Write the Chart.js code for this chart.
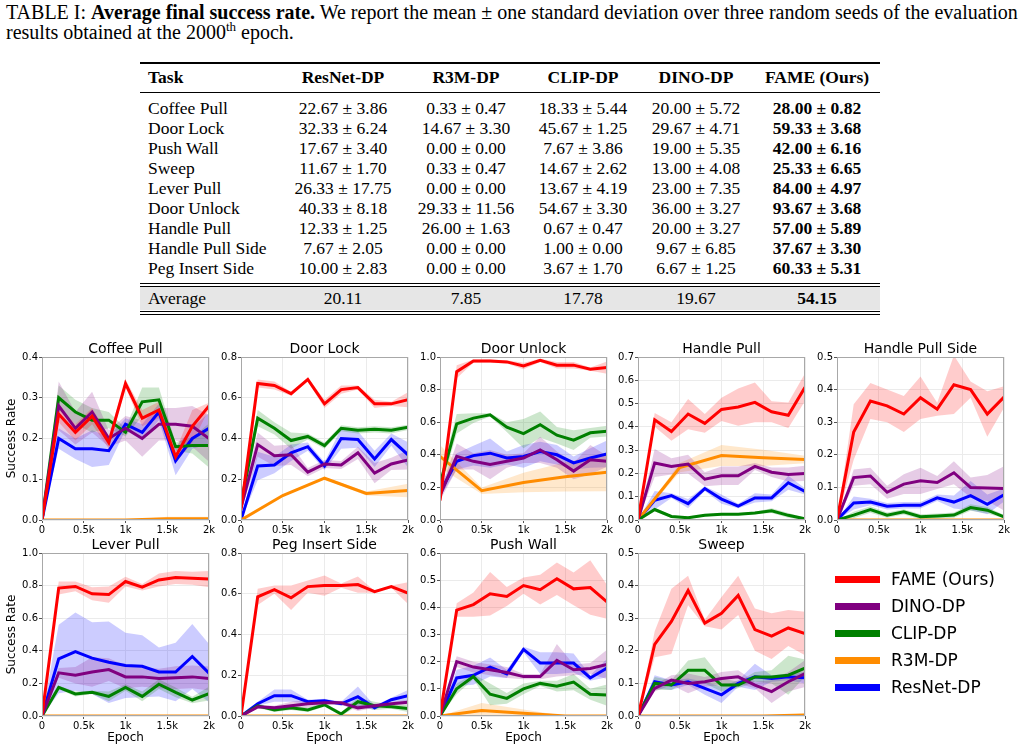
<!DOCTYPE html>
<html>
<head>
<meta charset="utf-8">
<script src="https://cdn.jsdelivr.net/npm/chart.js@4.4.0/dist/chart.umd.min.js"></script>
<style>
  body { margin: 0; background: #fff; }
  #page { position: relative; width: 1020px; height: 749px; overflow: hidden; color: #000; }
  .caption { position: absolute; left: 6px; top: 2px; font-family: 'Liberation Serif', serif; font-size: 20px; line-height: 20px; white-space: nowrap; }
  .caption sup { font-size: 13px; line-height: 0; }
  .rule { position: absolute; left: 140px; width: 740px; background: #000; }
  .row { position: absolute; left: 140px; width: 740px; height: 20px; font-family: 'Liberation Serif', serif; font-size: 17.5px; line-height: 20px; }
  .cell { position: absolute; top: 0; transform: translateX(-50%); white-space: nowrap; }
  .task { position: absolute; left: 8px; top: 0; white-space: nowrap; }
  .avgbg { position: absolute; left: 140px; width: 740px; background: #e6e6e6; }
  canvas.plot { position: absolute; }
  .leg { position: absolute; left: 835px; height: 20px; font-family: 'DejaVu Sans', sans-serif; font-size: 17px; line-height: 20px; white-space: nowrap; }
  .leg i { position: absolute; left: 0; top: 7px; width: 45px; height: 7px; }
  .leg span { position: absolute; left: 56px; top: 0; }
</style>
</head>
<body>
<div id="page">
  <div class="caption">TABLE I: <b>Average final success rate.</b> We report the mean ± one standard deviation over three random seeds of the evaluation<br>results obtained at the 2000<sup>th</sup> epoch.</div>
</div>
<script>
// ---- table data ----
const TABLE_COLUMNS = ['ResNet-DP', 'R3M-DP', 'CLIP-DP', 'DINO-DP', 'FAME (Ours)'];
const TABLE_TASKS = ['Coffee Pull', 'Door Lock', 'Push Wall', 'Sweep', 'Lever Pull', 'Door Unlock', 'Handle Pull', 'Handle Pull Side', 'Peg Insert Side'];
const TABLE_MEAN = [
  [22.67, 0.33, 18.33, 20.00, 28.00],
  [32.33, 14.67, 45.67, 29.67, 59.33],
  [17.67, 0.00, 7.67, 19.00, 42.00],
  [11.67, 0.33, 14.67, 13.00, 25.33],
  [26.33, 0.00, 13.67, 23.00, 84.00],
  [40.33, 29.33, 54.67, 36.00, 93.67],
  [12.33, 26.00, 0.67, 20.00, 57.00],
  [7.67, 0.00, 1.00, 9.67, 37.67],
  [10.00, 0.00, 3.67, 6.67, 60.33]
];
const TABLE_STD = [
  [3.86, 0.47, 5.44, 5.72, 0.82],
  [6.24, 3.30, 1.25, 4.71, 3.68],
  [3.40, 0.00, 3.86, 5.35, 6.16],
  [1.70, 0.47, 2.62, 4.08, 6.65],
  [17.75, 0.00, 4.19, 7.35, 4.97],
  [8.18, 11.56, 3.30, 3.27, 3.68],
  [1.25, 1.63, 0.47, 3.27, 5.89],
  [2.05, 0.00, 0.00, 6.85, 3.30],
  [2.83, 0.00, 1.70, 1.25, 5.31]
];
const TABLE_AVG = [20.11, 7.85, 17.78, 19.67, 54.15];

// ---- curve data ----
const EPOCHS = [0, 200, 400, 600, 800, 1000, 1200, 1400, 1600, 1800, 2000];
const R3M_EPOCHS = [0, 500, 1000, 1500, 2000];
const X_TICKS = [0, 500, 1000, 1500, 2000];
const X_TICK_LABELS = ['0', '0.5k', '1k', '1.5k', '2k'];
const METHODS = ['FAME (Ours)', 'DINO-DP', 'CLIP-DP', 'R3M-DP', 'ResNet-DP'];
const COLORS = ['#ff0000', '#800080', '#008000', '#ff8c00', '#0000ff'];
const TASKS = ['Coffee Pull', 'Door Lock', 'Door Unlock', 'Handle Pull', 'Handle Pull Side', 'Lever Pull', 'Peg Insert Side', 'Push Wall', 'Sweep'];
const Y_MAX = [0.4, 0.8, 1.0, 0.7, 0.5, 1.0, 0.8, 0.6, 0.5];
const Y_STEP = [0.1, 0.2, 0.2, 0.1, 0.1, 0.2, 0.2, 0.1, 0.1];

// one row per task, same order as TASKS
const FAME_MEAN = [
  [0, 0.26, 0.215, 0.255, 0.19, 0.335, 0.25, 0.27, 0.155, 0.23, 0.28],
  [0.05, 0.67, 0.66, 0.62, 0.69, 0.57, 0.64, 0.65, 0.57, 0.57, 0.59],
  [0.12, 0.91, 0.975, 0.975, 0.97, 0.945, 0.98, 0.95, 0.95, 0.925, 0.935],
  [0, 0.43, 0.38, 0.455, 0.415, 0.475, 0.485, 0.505, 0.465, 0.45, 0.57],
  [0, 0.27, 0.365, 0.35, 0.325, 0.375, 0.34, 0.415, 0.40, 0.325, 0.377],
  [0, 0.785, 0.795, 0.75, 0.745, 0.825, 0.79, 0.835, 0.85, 0.845, 0.84],
  [0, 0.585, 0.62, 0.58, 0.635, 0.64, 0.64, 0.645, 0.61, 0.635, 0.603],
  [0, 0.39, 0.41, 0.45, 0.44, 0.48, 0.465, 0.505, 0.468, 0.473, 0.42],
  [0, 0.22, 0.29, 0.385, 0.285, 0.315, 0.37, 0.265, 0.245, 0.27, 0.253]
];
const FAME_STD = [
  [0, 0.02, 0.02, 0.02, 0.015, 0.01, 0.02, 0.02, 0.015, 0.04, 0.008],
  [0.03, 0.02, 0.02, 0.01, 0.01, 0.02, 0.02, 0.01, 0.02, 0.01, 0.037],
  [0.04, 0.04, 0.01, 0.01, 0.01, 0.02, 0.01, 0.02, 0.02, 0.01, 0.037],
  [0, 0.03, 0.04, 0.065, 0.04, 0.05, 0.08, 0.085, 0.045, 0.055, 0.059],
  [0, 0.085, 0.055, 0.05, 0.055, 0.065, 0.02, 0.09, 0.025, 0.07, 0.033],
  [0, 0.04, 0.03, 0.04, 0.05, 0.03, 0.02, 0.04, 0.04, 0.04, 0.05],
  [0, 0.04, 0.02, 0.06, 0.03, 0.05, 0.01, 0.04, 0.005, 0.005, 0.053],
  [0, 0.025, 0.045, 0.08, 0.035, 0.03, 0.055, 0.06, 0.06, 0.1, 0.062],
  [0, 0.04, 0.1, 0.045, 0.01, 0.05, 0.06, 0.065, 0.07, 0.055, 0.067]
];
const DINO_MEAN = [
  [0, 0.28, 0.225, 0.265, 0.20, 0.225, 0.20, 0.235, 0.235, 0.23, 0.20],
  [0.06, 0.37, 0.315, 0.32, 0.235, 0.275, 0.27, 0.33, 0.23, 0.275, 0.295],
  [0.15, 0.39, 0.36, 0.34, 0.36, 0.38, 0.43, 0.37, 0.30, 0.37, 0.36],
  [0, 0.245, 0.23, 0.24, 0.175, 0.19, 0.19, 0.23, 0.205, 0.195, 0.20],
  [0, 0.13, 0.135, 0.085, 0.11, 0.12, 0.115, 0.145, 0.10, 0.098, 0.097],
  [0, 0.265, 0.25, 0.27, 0.285, 0.24, 0.24, 0.23, 0.235, 0.24, 0.23],
  [0, 0.045, 0.04, 0.05, 0.06, 0.065, 0.065, 0.04, 0.05, 0.06, 0.067],
  [0, 0.20, 0.18, 0.17, 0.16, 0.145, 0.145, 0.205, 0.17, 0.175, 0.19],
  [0, 0.085, 0.11, 0.10, 0.105, 0.115, 0.12, 0.095, 0.075, 0.105, 0.13]
];
const DINO_STD = [
  [0, 0.06, 0.04, 0.05, 0.02, 0.03, 0.045, 0.04, 0.04, 0.05, 0.057],
  [0.02, 0.06, 0.05, 0.05, 0.02, 0.02, 0.02, 0.03, 0.05, 0.03, 0.047],
  [0.03, 0.08, 0.05, 0.09, 0.04, 0.03, 0.08, 0.05, 0.05, 0.09, 0.033],
  [0, 0.06, 0.035, 0.04, 0.03, 0.04, 0.04, 0.015, 0.02, 0.03, 0.033],
  [0, 0.025, 0.025, 0.02, 0.03, 0.04, 0.02, 0.035, 0.03, 0.04, 0.068],
  [0, 0.03, 0.05, 0.09, 0.07, 0.07, 0.06, 0.06, 0.07, 0.07, 0.074],
  [0, 0.01, 0.01, 0.02, 0.02, 0.01, 0.01, 0.015, 0.01, 0.01, 0.013],
  [0, 0.02, 0.02, 0.02, 0.02, 0.01, 0.01, 0.06, 0.02, 0.02, 0.054],
  [0, 0.01, 0.015, 0.03, 0.015, 0.02, 0.02, 0.01, 0.035, 0.03, 0.041]
];
const CLIP_MEAN = [
  [0, 0.30, 0.265, 0.245, 0.245, 0.215, 0.29, 0.295, 0.18, 0.183, 0.183],
  [0.08, 0.50, 0.45, 0.39, 0.41, 0.365, 0.45, 0.44, 0.445, 0.44, 0.455],
  [0.22, 0.59, 0.625, 0.645, 0.57, 0.53, 0.585, 0.52, 0.49, 0.535, 0.545],
  [0, 0.045, 0.015, 0.01, 0.02, 0.025, 0.025, 0.03, 0.04, 0.02, 0.005],
  [0, 0.015, 0.032, 0.015, 0.025, 0.01, 0.012, 0.015, 0.038, 0.03, 0.01],
  [0, 0.175, 0.135, 0.145, 0.12, 0.175, 0.12, 0.195, 0.145, 0.098, 0.137],
  [0, 0.05, 0.03, 0.04, 0.03, 0.055, 0.01, 0.07, 0.05, 0.045, 0.037],
  [0, 0.10, 0.145, 0.08, 0.065, 0.10, 0.12, 0.11, 0.125, 0.08, 0.077],
  [0, 0.10, 0.095, 0.14, 0.14, 0.095, 0.095, 0.12, 0.12, 0.125, 0.147]
];
const CLIP_STD = [
  [0, 0.03, 0.03, 0.03, 0.02, 0.01, 0.035, 0.03, 0.01, 0.02, 0.054],
  [0.03, 0.04, 0.03, 0.04, 0.015, 0.015, 0.015, 0.015, 0.015, 0.015, 0.013],
  [0.04, 0.06, 0.03, 0.01, 0.03, 0.09, 0.08, 0.05, 0.06, 0.03, 0.033],
  [0, 0.008, 0.005, 0.005, 0.005, 0.005, 0.005, 0.005, 0.01, 0.01, 0.005],
  [0, 0.01, 0.01, 0.008, 0.008, 0.008, 0.008, 0.008, 0.01, 0.01, 0.005],
  [0, 0.01, 0.015, 0.01, 0.03, 0.02, 0.03, 0.03, 0.03, 0.02, 0.042],
  [0, 0.01, 0.01, 0.01, 0.01, 0.01, 0.01, 0.02, 0.02, 0.01, 0.017],
  [0, 0.02, 0.01, 0.04, 0.02, 0.02, 0.01, 0.02, 0.03, 0.02, 0.039],
  [0, 0.02, 0.015, 0.03, 0.04, 0.02, 0.01, 0.015, 0.02, 0.06, 0.026]
];
// R3M was logged on R3M_EPOCHS only
const R3M_MEAN = [
  [0, 0, 0, 0.003, 0.003],
  [0, 0.12, 0.205, 0.13, 0.145],
  [0.39, 0.18, 0.23, 0.265, 0.293],
  [0, 0.225, 0.277, 0.267, 0.26],
  [0, 0, 0, 0, 0],
  [0, 0, 0, 0, 0],
  [0, 0, 0, 0, 0],
  [0, 0.02, 0.01, 0, 0],
  [0, 0, 0, 0, 0.003]
];
const R3M_STD = [
  [0, 0, 0, 0.005, 0.005],
  [0, 0.005, 0.005, 0.01, 0.033],
  [0.07, 0.02, 0.06, 0.09, 0.116],
  [0, 0.02, 0.045, 0.035, 0.016],
  [0, 0, 0, 0, 0],
  [0, 0, 0, 0, 0],
  [0, 0, 0, 0, 0],
  [0, 0.028, 0.014, 0, 0],
  [0, 0, 0, 0, 0.005]
];
const RESNET_MEAN = [
  [0, 0.20, 0.175, 0.175, 0.17, 0.235, 0.215, 0.265, 0.145, 0.20, 0.225],
  [0, 0.265, 0.27, 0.33, 0.36, 0.265, 0.40, 0.395, 0.30, 0.395, 0.32],
  [0.17, 0.36, 0.395, 0.41, 0.38, 0.39, 0.42, 0.40, 0.35, 0.38, 0.405],
  [0, 0.085, 0.105, 0.07, 0.135, 0.09, 0.06, 0.095, 0.095, 0.16, 0.123],
  [0, 0.052, 0.055, 0.042, 0.045, 0.045, 0.068, 0.055, 0.075, 0.048, 0.077],
  [0, 0.35, 0.395, 0.355, 0.33, 0.31, 0.305, 0.27, 0.27, 0.365, 0.263],
  [0, 0.06, 0.10, 0.10, 0.07, 0.075, 0.06, 0.095, 0.04, 0.08, 0.10],
  [0, 0.14, 0.15, 0.18, 0.155, 0.245, 0.195, 0.195, 0.195, 0.14, 0.177],
  [0, 0.105, 0.095, 0.105, 0.085, 0.065, 0.10, 0.12, 0.115, 0.12, 0.117]
];
const RESNET_STD = [
  [0, 0.025, 0.025, 0.045, 0.035, 0.015, 0.02, 0.02, 0.035, 0.025, 0.039],
  [0, 0.07, 0.04, 0.04, 0.02, 0.02, 0.05, 0.04, 0.04, 0.03, 0.062],
  [0.03, 0.05, 0.06, 0.09, 0.04, 0.07, 0.06, 0.06, 0.04, 0.06, 0.082],
  [0, 0.04, 0.01, 0.02, 0.01, 0.02, 0.01, 0.02, 0.015, 0.03, 0.013],
  [0, 0.02, 0.01, 0.01, 0.01, 0.01, 0.01, 0.02, 0.045, 0.03, 0.02],
  [0, 0.21, 0.24, 0.22, 0.25, 0.20, 0.19, 0.15, 0.18, 0.20, 0.178],
  [0, 0.01, 0.03, 0.03, 0.01, 0.01, 0.01, 0.05, 0.01, 0.01, 0.028],
  [0, 0.03, 0.035, 0.035, 0.015, 0.01, 0.04, 0.04, 0.035, 0.01, 0.034],
  [0, 0.02, 0.015, 0.01, 0.02, 0.025, 0.01, 0.04, 0.01, 0.01, 0.017]
];

const MEANS = [FAME_MEAN, DINO_MEAN, CLIP_MEAN, R3M_MEAN, RESNET_MEAN];
const STDS = [FAME_STD, DINO_STD, CLIP_STD, R3M_STD, RESNET_STD];

// ---- layout ----
const PLOT_LEFT = [42, 241, 440, 638, 837];
const PLOT_TOP = [357, 553];
const PLOT_W = 167, PLOT_H = 163;
const Y_AXIS_W = 42, TITLE_H = 24, RIGHT_PAD = 14;

const page = document.getElementById('page');

// ---- table ----
function addDiv(cls, css, html) {
  const d = document.createElement('div');
  d.className = cls;
  Object.assign(d.style, css);
  if (html !== undefined) d.innerHTML = html;
  page.appendChild(d);
  return d;
}
const COL_CENTER = [203, 326, 443, 556, 677];
addDiv('rule', { top: '62px', height: '2px' });
addDiv('rule', { top: '92px', height: '1px' });
addDiv('rule', { top: '283px', height: '1px' });
addDiv('rule', { top: '286px', height: '1px' });
addDiv('avgbg', { top: '287px', height: '23px' });
addDiv('rule', { top: '311px', height: '1px' });
addDiv('rule', { top: '314px', height: '1px' });

function addRow(top, label, cells, bold, labelBold) {
  const r = addDiv('row', { top: top + 'px' });
  const t = document.createElement('div');
  t.className = 'task';
  t.innerHTML = labelBold ? '<b>' + label + '</b>' : label;
  r.appendChild(t);
  cells.forEach((txt, i) => {
    const c = document.createElement('div');
    c.className = 'cell';
    c.style.left = COL_CENTER[i] + 'px';
    c.innerHTML = (bold === true || bold === i) ? '<b>' + txt + '</b>' : txt;
    r.appendChild(c);
  });
}
addRow(67, 'Task', TABLE_COLUMNS, true, true);
TABLE_TASKS.forEach((task, i) => {
  const cells = TABLE_MEAN[i].map((m, j) => m.toFixed(2) + ' ± ' + TABLE_STD[i][j].toFixed(2));
  addRow(98 + i * 20, task, cells, 4, false);
});
addRow(288, 'Average', TABLE_AVG.map(v => v.toFixed(2)), 4, false);

// ---- charts ----
Chart.defaults.font.family = "'DejaVu Sans', sans-serif";
Chart.defaults.color = '#000';

// spines on all four sides + title centred over the plot area
const framePlugin = {
  id: 'frame',
  afterDatasetsDraw(chart, args, opts) {
    const { ctx, chartArea: a } = chart;
    ctx.save();
    ctx.strokeStyle = '#a8a8a8';
    ctx.lineWidth = 1;
    ctx.strokeRect(Math.round(a.left) + 0.5, Math.round(a.top) + 0.5, Math.round(a.width) - 1, Math.round(a.height) - 1);
    ctx.fillStyle = '#000';
    ctx.font = "14px 'DejaVu Sans', sans-serif";
    ctx.textAlign = 'center';
    ctx.textBaseline = 'alphabetic';
    ctx.fillText(opts.text, (a.left + a.right) / 2, a.top - 4);
    ctx.restore();
  }
};

function rgba(hex, a) {
  const n = parseInt(hex.slice(1), 16);
  return `rgba(${n >> 16},${(n >> 8) & 255},${n & 255},${a})`;
}

function makeChart(t) {
  const col = t % 5, row = Math.floor(t / 5);
  const xAxisH = row === 0 ? 20 : 34;
  const canvas = document.createElement('canvas');
  canvas.className = 'plot';
  canvas.width = Y_AXIS_W + PLOT_W + RIGHT_PAD;
  canvas.height = TITLE_H + PLOT_H + xAxisH;
  canvas.style.left = (PLOT_LEFT[col] - Y_AXIS_W) + 'px';
  canvas.style.top = (PLOT_TOP[row] - TITLE_H) + 'px';
  page.appendChild(canvas);

  const lines = [], bands = [];
  METHODS.forEach((name, m) => {
    const xs = m === 3 ? R3M_EPOCHS : EPOCHS;
    const mean = MEANS[m][t], std = STDS[m][t];
    lines.push({
      label: name,
      data: xs.map((x, i) => ({ x, y: mean[i] })),
      borderColor: COLORS[m], borderWidth: 3, pointRadius: 0,
      fill: false, order: 0, clip: 0
    });
    bands.push({
      label: name + ' hi',
      data: xs.map((x, i) => ({ x, y: mean[i] + std[i] })),
      borderWidth: 0, borderColor: 'transparent', pointRadius: 0,
      backgroundColor: rgba(COLORS[m], 0.2), fill: '+1', order: 1, clip: 0
    }, {
      label: name + ' lo',
      data: xs.map((x, i) => ({ x, y: mean[i] - std[i] })),
      borderWidth: 0, borderColor: 'transparent', pointRadius: 0,
      fill: false, order: 1, clip: 0
    });
  });

  new Chart(canvas, {
    type: 'line',
    data: { datasets: lines.concat(bands) },
    options: {
      responsive: false,
      animation: false,
      events: [],
      layout: { autoPadding: false, padding: { left: 0, top: TITLE_H, right: RIGHT_PAD, bottom: 0 } },
      plugins: {
        legend: { display: false },
        tooltip: { enabled: false },
        title: { display: false },
        frame: { text: TASKS[t] }
      },
      scales: {
        x: {
          type: 'linear', min: 0, max: 2000,
          afterFit: s => { s.height = xAxisH; },
          afterBuildTicks: s => { s.ticks = X_TICKS.map(v => ({ value: v })); },
          ticks: {
            autoSkip: false, maxRotation: 0, padding: 1,
            font: { size: 10 }, color: '#000',
            callback: v => X_TICK_LABELS[X_TICKS.indexOf(v)]
          },
          grid: { color: '#ebebeb', tickColor: '#555', tickLength: 3 },
          border: { display: false },
          title: {
            display: row === 1, text: 'Epoch', color: '#000',
            font: { size: 12 }, padding: { top: 2, bottom: 5 }
          }
        },
        y: {
          min: 0, max: Y_MAX[t],
          afterFit: s => { s.width = Y_AXIS_W; },
          ticks: {
            stepSize: Y_STEP[t], padding: 1,
            font: { size: 10 }, color: '#000',
            callback: v => v.toFixed(1)
          },
          grid: { color: '#ebebeb', tickColor: '#555', tickLength: 3 },
          border: { display: false },
          title: {
            display: col === 0, text: 'Success Rate', color: '#000',
            font: { size: 12 }, padding: { top: 5, bottom: 0 }
          }
        }
      }
    },
    plugins: [framePlugin]
  });
}
TASKS.forEach((_, t) => makeChart(t));

// ---- legend ----
const LEGEND_TOP = [569, 596, 623, 650, 677];
METHODS.forEach((name, m) => {
  addDiv('leg', { top: LEGEND_TOP[m] + 'px' },
    '<i style="background:' + COLORS[m] + '"></i><span>' + name + '</span>');
});
</script>
</body>
</html>
